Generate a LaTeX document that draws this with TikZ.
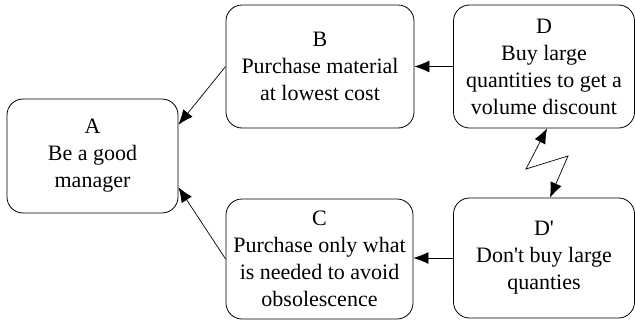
\documentclass[tikz,border=0pt]{standalone}
\usepackage{fontspec}
\setmainfont[Ligatures=TeXOff]{Liberation Serif}
\usetikzlibrary{arrows.meta, positioning}

\begin{document}
\begin{tikzpicture}[x=1pt, y=-1pt,
    goal/.style={rectangle, draw=black, rounded corners=16pt, align=center, font=\fontsize{22}{27}\selectfont, line width=0.8pt, inner sep=0pt},
    arrow/.style={-{Latex[length=15pt, width=12pt]}, line width=0.7pt},
    conflict/.style={{Latex[length=15pt, width=12pt]}-{Latex[length=15pt, width=12pt]}, line width=0.7pt}
]
    \useasboundingbox (0,0) rectangle (635,321);

    % --- Goal and requirements ---
    \node[goal, minimum width=171pt, minimum height=114pt] (A) at (92.5, 156) {A\\Be a good\\manager};
    \node[goal, minimum width=188pt, minimum height=123pt] (B) at (320, 66.5) {B\\Purchase material\\at lowest cost};
    \node[goal, minimum width=187pt, minimum height=120pt] (C) at (319.5, 259) {C\\Purchase only what\\is needed to avoid\\obsolescence};

    % --- Prerequisites in conflict ---
    \node[goal, minimum width=181pt, minimum height=123pt] (D) at (544, 66.5) {D\\Buy large\\quantities to get a\\volume discount};
    \node[goal, minimum width=181pt, minimum height=120pt] (Dp) at (544, 258) {D'\\Don't buy large\\quanties};

    % Connections
    \draw[arrow] (B.west) -- (A.20);
    \draw[arrow] (C.west) -- (A.-20);
    \draw[arrow] (D.west) -- (B.east);
    \draw[arrow] (Dp.west) -- (Dp.west -| C.east);

    % Conflict
    \coordinate (z1) at (526, 169);
    \coordinate (z2) at (568, 156);
    \draw[conflict] ([xshift=3pt]D.south) -- (z1) -- (z2) -- ([xshift=6pt]Dp.north);
\end{tikzpicture}
\end{document}
